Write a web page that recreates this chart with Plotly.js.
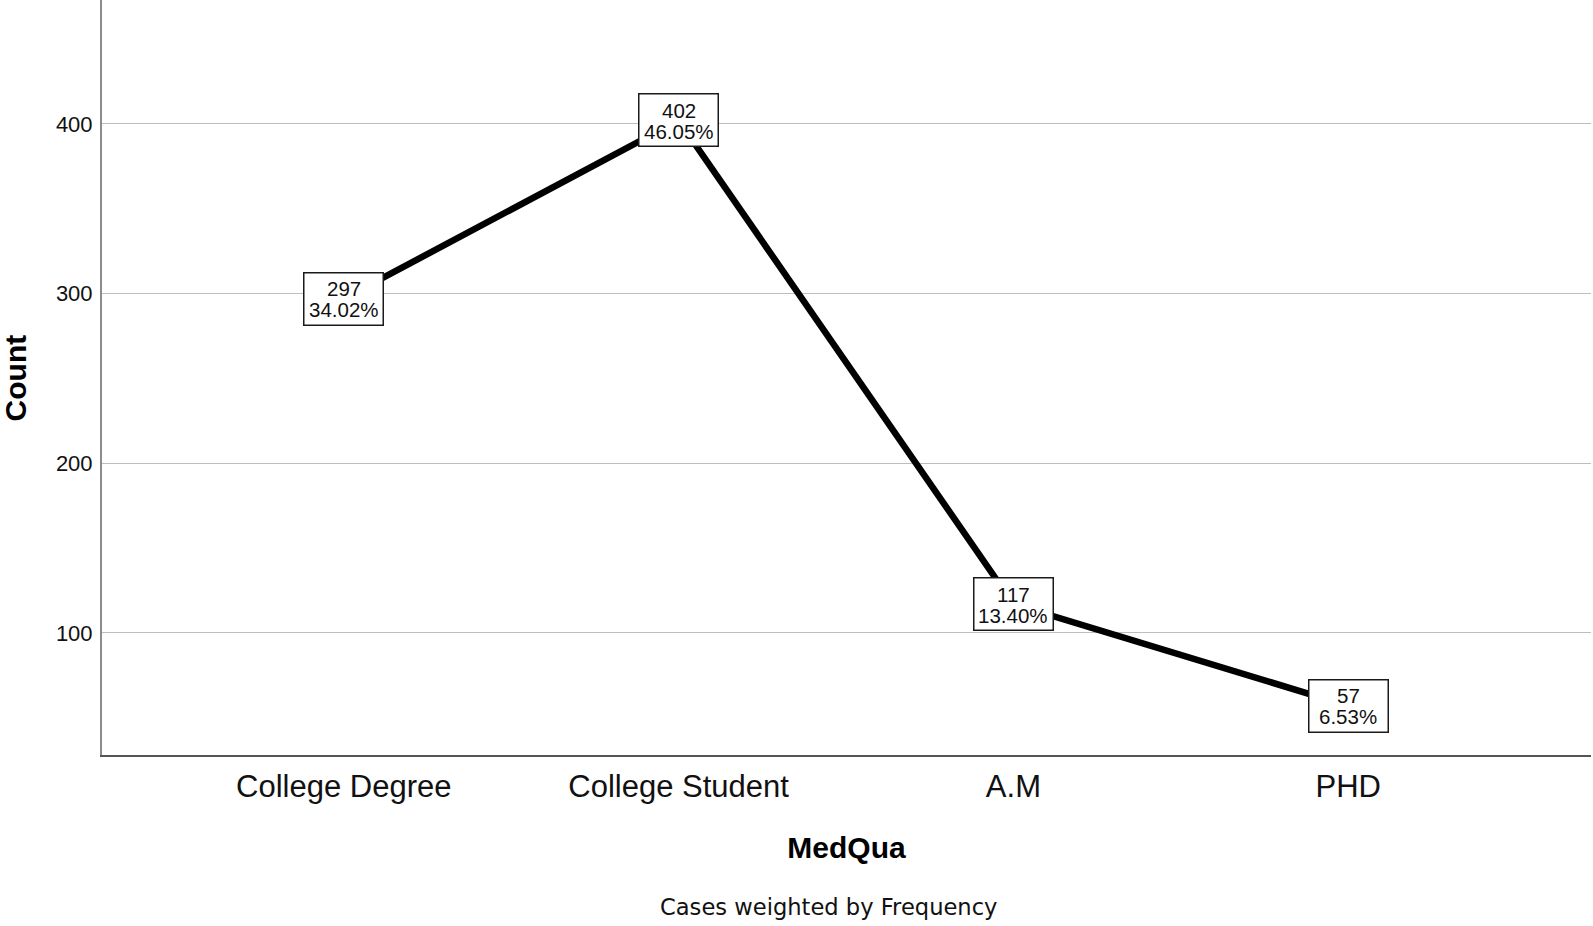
<!DOCTYPE html>
<html>
<head>
<meta charset="utf-8">
<script src="https://cdn.plot.ly/plotly-3.0.1.min.js"></script>
<style>
  html, body { margin: 0; padding: 0; background: #fff; }
  #chart { width: 1593px; height: 926px; }
</style>
</head>
<body>
<div id="chart"></div>
<script>
// Data
const categories = ["College Degree", "College Student", "A.M", "PHD"];
const counts = [297, 402, 117, 57];
const percentLabels = ["34.02%", "46.05%", "13.40%", "6.53%"];
const yTickValues = [100, 200, 300, 400];

const trace = {
  type: "scatter",
  mode: "lines",
  x: categories,
  y: counts,
  line: { color: "#000000", width: 6.5 },
  hoverinfo: "x+y",
  showlegend: false
};

const labelFont = { family: "Liberation Sans, Arial, sans-serif", size: 20.5, color: "#111" };
const annotations = [];
categories.forEach((c, i) => {
  // label box
  annotations.push({
    x: c, y: counts[i], xref: "x", yref: "y",
    text: "&nbsp;",
    showarrow: false,
    bgcolor: "#ffffff",
    bordercolor: "#1a1a1a",
    borderwidth: 1.5,
    borderpad: 0,
    width: 78,
    height: 51,
    xanchor: "center", yanchor: "middle",
    font: labelFont
  });
  // count
  annotations.push({
    x: c, y: counts[i], xref: "x", yref: "y",
    text: String(counts[i]),
    showarrow: false,
    yshift: 10,
    xanchor: "center", yanchor: "middle",
    font: labelFont
  });
  // percentage
  annotations.push({
    x: c, y: counts[i], xref: "x", yref: "y",
    text: percentLabels[i],
    showarrow: false,
    yshift: -11,
    xanchor: "center", yanchor: "middle",
    font: labelFont
  });
});

// y-axis title (placed precisely)
annotations.push({
  text: "<b>Count</b>",
  xref: "paper",
  yref: "paper",
  x: -0.0578,
  y: 0.5,
  xanchor: "center",
  yanchor: "middle",
  textangle: -90,
  showarrow: false,
  font: { family: "Liberation Sans, Arial, sans-serif", size: 30, color: "#000" }
});

annotations.push({
  text: "Cases weighted by Frequency",
  xref: "paper",
  yref: "paper",
  x: 0.4876,
  y: -0.2015,
  xanchor: "center",
  yanchor: "middle",
  showarrow: false,
  font: { family: "DejaVu Sans, sans-serif", size: 22.6, color: "#111" }
});

const layout = {
  width: 1593,
  height: 926,
  margin: { l: 102, r: 2, t: 0, b: 171, autoexpand: false },
  paper_bgcolor: "#ffffff",
  plot_bgcolor: "#ffffff",
  showlegend: false,
  xaxis: {
    type: "category",
    categoryorder: "array",
    categoryarray: categories,
    range: [-0.722, 3.725],
    showgrid: false,
    zeroline: false,
    showline: true,
    linecolor: "#555555",
    linewidth: 2,
    ticks: "",
    ticklabelstandoff: 3,
    tickfont: { family: "Liberation Sans, Arial, sans-serif", size: 31, color: "#111" },
    title: {
      text: "<b>MedQua</b>",
      font: { family: "Liberation Sans, Arial, sans-serif", size: 30, color: "#000" },
      standoff: 34
    },
    automargin: false
  },
  yaxis: {
    range: [28, 473],
    tickvals: yTickValues,
    ticktext: yTickValues.map(String),
    showgrid: true,
    gridcolor: "#bdbdbd",
    gridwidth: 1,
    zeroline: false,
    showline: true,
    linecolor: "#8c8c8c",
    linewidth: 2,
    ticks: "",
    ticklabelstandoff: 3,
    tickfont: { family: "Liberation Sans, Arial, sans-serif", size: 22, color: "#111" },
    automargin: false
  },
  annotations: annotations
};

Plotly.newPlot("chart", [trace], layout, { displayModeBar: false });
</script>
</body>
</html>
